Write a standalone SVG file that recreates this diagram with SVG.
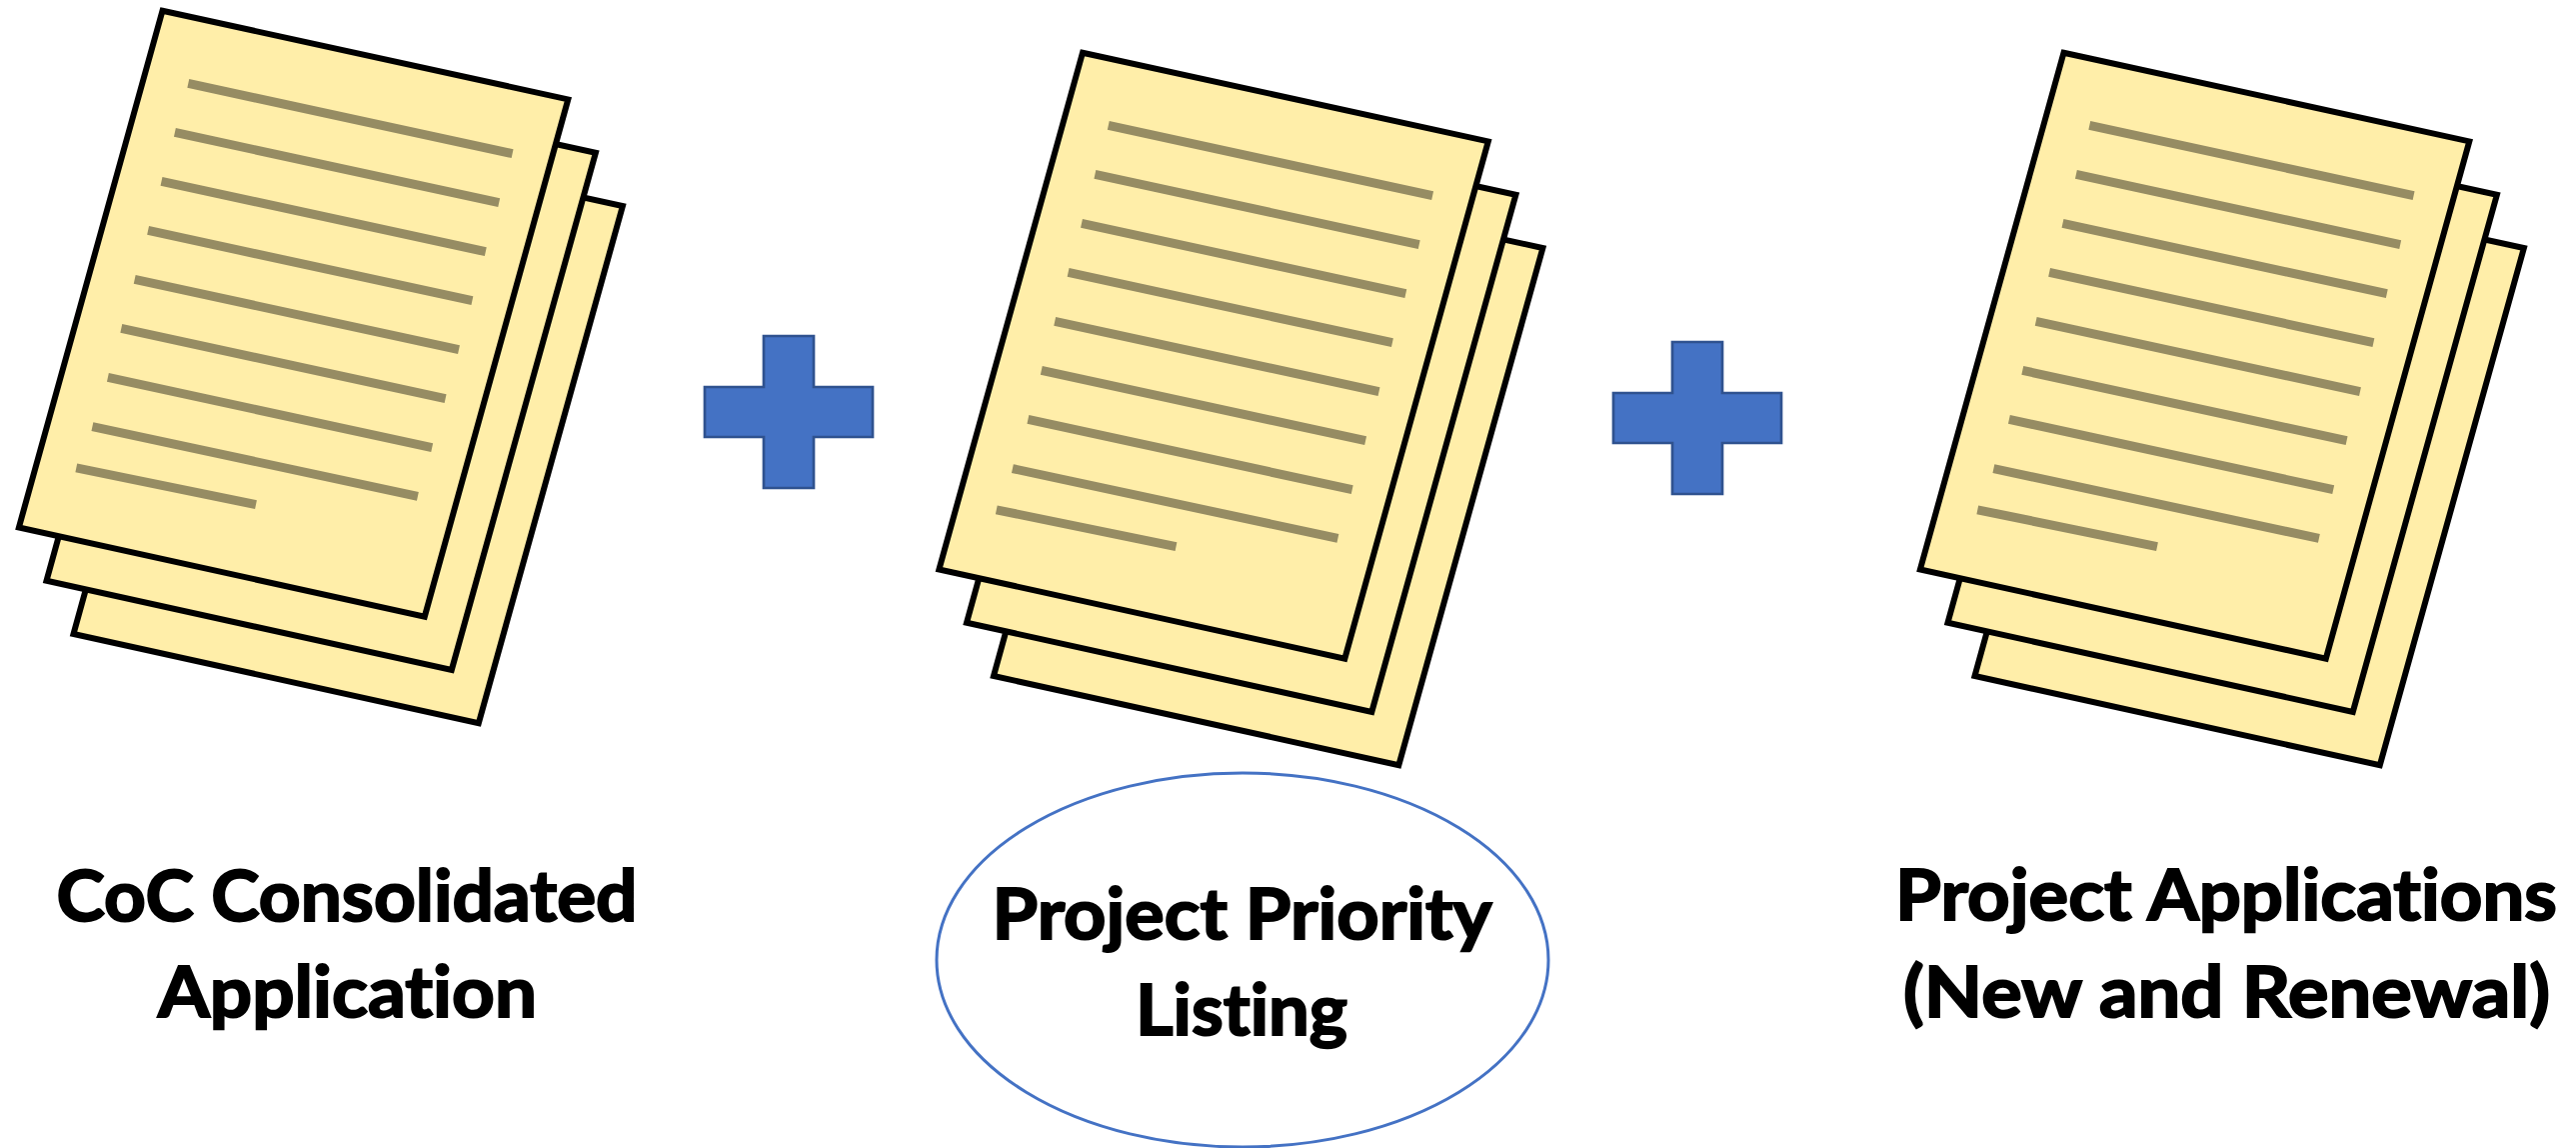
<svg xmlns="http://www.w3.org/2000/svg" xmlns:xlink="http://www.w3.org/1999/xlink" width="2577" height="1148" viewBox="0 0 2577 1148">
<style>
.sheet{fill:#FFEEA9;stroke:#000;stroke-width:6;stroke-linejoin:miter}
.ln{stroke:#968C63;stroke-width:9;fill:none}
.plus{fill:#4472C4;stroke:#2F528F;stroke-width:2.7}
.lbl{font-family:Lato,"Open Sans","Liberation Sans",sans-serif;font-weight:700;font-size:71px;fill:#000;stroke:#000;stroke-width:2;font-variant-ligatures:none}
</style>
<defs>
<g id="stack">
<polygon class="sheet" points="216.5,117.7 622.9,206 478.8,723.2 73.5,634"/>
<polygon class="sheet" points="189.5,64.4 595.9,152.7 451.8,669.9 46.5,580.7"/>
<polygon class="sheet" points="162.5,10.7 568.3,99.4 424.8,616.6 18.9,527.4"/>
<path class="ln" d="M188.3 83.4L512.6 153.7M174.9 132.4L499.2 202.7M161.5 181.4L485.8 251.7M148.1 230.4L472.4 300.7M134.7 279.4L459 349.7M121.3 328.4L445.6 398.7M107.9 377.4L432.2 447.7M92.4 426.6L417.9 496.4M76.3 467.8L256 504.6"/>
</g>
</defs>
<g id="doc-consolidated"><use xlink:href="#stack" href="#stack"/></g>
<g id="plus-1"><polygon class="plus" points="764,336 814,336 814,387 873,387 873,437 814,437 814,488 764,488 764,437 705,437 705,387 764,387"/></g>
<g id="doc-priority"><use xlink:href="#stack" href="#stack" x="920.5" y="42"/></g>
<g id="plus-2" transform="translate(909,6)"><polygon class="plus" points="764,336 814,336 814,387 873,387 873,437 814,437 814,488 764,488 764,437 705,437 705,387 764,387"/></g>
<g id="doc-applications"><use xlink:href="#stack" href="#stack" x="1902" y="42"/></g>
<g id="label-consolidated">
<text class="lbl" x="56.5" y="921" textLength="581" lengthAdjust="spacingAndGlyphs">CoC Consolidated</text>
<text class="lbl" x="158" y="1017" textLength="379" lengthAdjust="spacingAndGlyphs">Application</text>
</g>
<g id="label-priority">
<ellipse cx="1243" cy="960" rx="306" ry="187" fill="none" stroke="#4472C4" stroke-width="3"/>
<text class="lbl" x="992.5" y="939" textLength="500" lengthAdjust="spacingAndGlyphs">Project Priority</text>
<text class="lbl" x="1136" y="1035" textLength="212" lengthAdjust="spacingAndGlyphs">Listing</text>
</g>
<g id="label-applications">
<text class="lbl" x="1896" y="920" textLength="662" lengthAdjust="spacingAndGlyphs">Project Applications</text>
<text class="lbl" x="1904" y="1016.5" textLength="647" lengthAdjust="spacingAndGlyphs">(New and Renewal)</text>
</g>
<g id="connectors"></g>
</svg>
